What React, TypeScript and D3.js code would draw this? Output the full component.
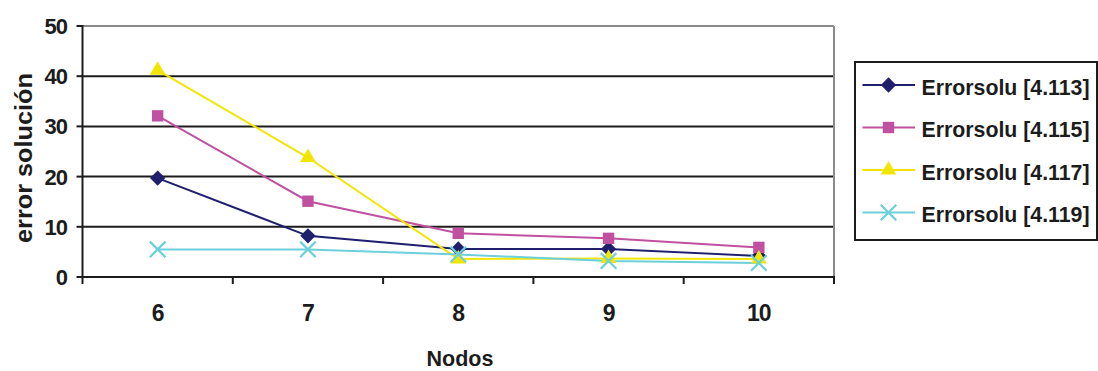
import React from "react";
import * as d3 from "d3";

// Number of nodes on the x axis
const nodos: string[] = ["6", "7", "8", "9", "10"];

// Solution error for each formula
const err4113: number[] = [19.7, 8.2, 5.6, 5.6, 4.2];
const err4115: number[] = [32.1, 15.1, 8.7, 7.7, 5.9];
const err4117: number[] = [41.2, 23.8, 3.6, 3.7, 3.6];
const err4119: number[] = [5.5, 5.5, 4.5, 3.2, 2.8];

const seriesNames: string[] = [
  "Errorsolu [4.113]",
  "Errorsolu [4.115]",
  "Errorsolu [4.117]",
  "Errorsolu [4.119]",
];

const yTicks: number[] = [0, 10, 20, 30, 40, 50];

const WIDTH = 1098;
const HEIGHT = 371;
const FONT = "'Liberation Sans', Arial, Helvetica, sans-serif";

type Series = {
  name: string;
  values: number[];
  color: string;
  symbol: d3.SymbolType;
  size: number;
  kind: "fill" | "cross";
};

const series: Series[] = [
  { name: seriesNames[0], values: err4113, color: "#1f1f6e", symbol: d3.symbolDiamond2, size: 150, kind: "fill" },
  { name: seriesNames[1], values: err4115, color: "#c050a0", symbol: d3.symbolSquare2, size: 165, kind: "fill" },
  { name: seriesNames[2], values: err4117, color: "#f2e600", symbol: d3.symbolTriangle2, size: 175, kind: "fill" },
  { name: seriesNames[3], values: err4119, color: "#6ccfdc", symbol: d3.symbolX, size: 160, kind: "cross" },
];

export default function App() {
  const plot = { left: 82.5, right: 834, top: 26, bottom: 277 };

  const x = d3.scaleBand<string>().domain(nodos).range([plot.left, plot.right]);
  const y = d3.scaleLinear().domain([0, 50]).range([plot.bottom, plot.top]);

  const cx = (c: string) => (x(c) ?? 0) + x.bandwidth() / 2;

  const line = d3
    .line<number>()
    .x((_, i) => cx(nodos[i]))
    .y((v) => y(v));

  const boundaries = [...nodos.map((c) => x(c) ?? 0), plot.right];

  const marker = (s: Series, px: number, py: number, key: string) => {
    const path = d3.symbol(s.symbol, s.size)() ?? "";
    return s.kind === "cross" ? (
      <path key={key} d={path} transform={`translate(${px},${py})`} fill="none" stroke={s.color} strokeWidth={2.2} />
    ) : (
      <path key={key} d={path} transform={`translate(${px},${py})`} fill={s.color} stroke="none" />
    );
  };

  const legend = { x: 855, y: 62, w: 242, h: 178, first: 85, step: 42.5 };

  return (
    <svg
      width={WIDTH}
      height={HEIGHT}
      style={{ position: "absolute", left: 0, top: 0, background: "#ffffff" }}
      fontFamily={FONT}
      fontWeight="bold"
    >
      {/* horizontal gridlines */}
      {yTicks
        .filter((t) => t > 0 && t < 50)
        .map((t) => (
          <line key={`g${t}`} x1={plot.left} x2={plot.right} y1={y(t)} y2={y(t)} stroke="#1c1c1c" strokeWidth={2} />
        ))}
      {/* plot frame: top and right in grey */}
      <line x1={plot.left} x2={plot.right} y1={y(50)} y2={y(50)} stroke="#8a8a8a" strokeWidth={2} />
      <line x1={plot.right} x2={plot.right} y1={plot.top} y2={plot.bottom} stroke="#8a8a8a" strokeWidth={2} />

      {/* y axis */}
      <line x1={plot.left} x2={plot.left} y1={plot.top - 1} y2={plot.bottom} stroke="#1c1c1c" strokeWidth={2} />
      {yTicks.map((t) => (
        <g key={`yt${t}`}>
          <line x1={plot.left - 6} x2={plot.left} y1={y(t)} y2={y(t)} stroke="#1c1c1c" strokeWidth={2} />
          <text x={67} y={y(t) + 8} textAnchor="end" fontSize={22} fill="#1c1c1c" letterSpacing={-1}>
            {t}
          </text>
        </g>
      ))}

      {/* x axis */}
      <line x1={plot.left - 1} x2={plot.right + 1} y1={plot.bottom} y2={plot.bottom} stroke="#1c1c1c" strokeWidth={2} />
      {boundaries.map((b, i) => (
        <line key={`xt${i}`} x1={b} x2={b} y1={plot.bottom} y2={plot.bottom + 7} stroke="#1c1c1c" strokeWidth={2} />
      ))}
      {nodos.map((c) => (
        <text key={`xl${c}`} x={cx(c)} y={320.5} textAnchor="middle" fontSize={23} fill="#1c1c1c" letterSpacing={-1}>
          {c}
        </text>
      ))}

      {/* series lines and markers */}
      {series.map((s) => (
        <path key={`l${s.name}`} d={line(s.values) ?? ""} fill="none" stroke={s.color} strokeWidth={2} />
      ))}
      {series.map((s) => s.values.map((v, i) => marker(s, cx(nodos[i]), y(v), `m${s.name}${i}`)))}

      {/* axis titles */}
      <text x={460} y={366} textAnchor="middle" fontSize={22} fill="#1c1c1c" textLength={67} lengthAdjust="spacingAndGlyphs">
        Nodos
      </text>
      <text
        transform={`translate(32,158) rotate(-90)`}
        textAnchor="middle"
        fontSize={24}
        fill="#1c1c1c"
        textLength={170}
        lengthAdjust="spacingAndGlyphs"
      >
        error solución
      </text>

      {/* legend */}
      <rect x={legend.x} y={legend.y} width={legend.w} height={legend.h} fill="#ffffff" stroke="#1c1c1c" strokeWidth={2} />
      {series.map((s, i) => {
        const ly = legend.first + i * legend.step;
        return (
          <g key={`lg${s.name}`}>
            <line x1={862.5} x2={915} y1={ly} y2={ly} stroke={s.color} strokeWidth={2} />
            {marker(s, 888.5, ly, `lm${i}`)}
            <text x={921.5} y={ly + 9.5} fontSize={21.5} fill="#1c1c1c" textLength={168} lengthAdjust="spacingAndGlyphs">
              {s.name}
            </text>
          </g>
        );
      })}
    </svg>
  );
}
